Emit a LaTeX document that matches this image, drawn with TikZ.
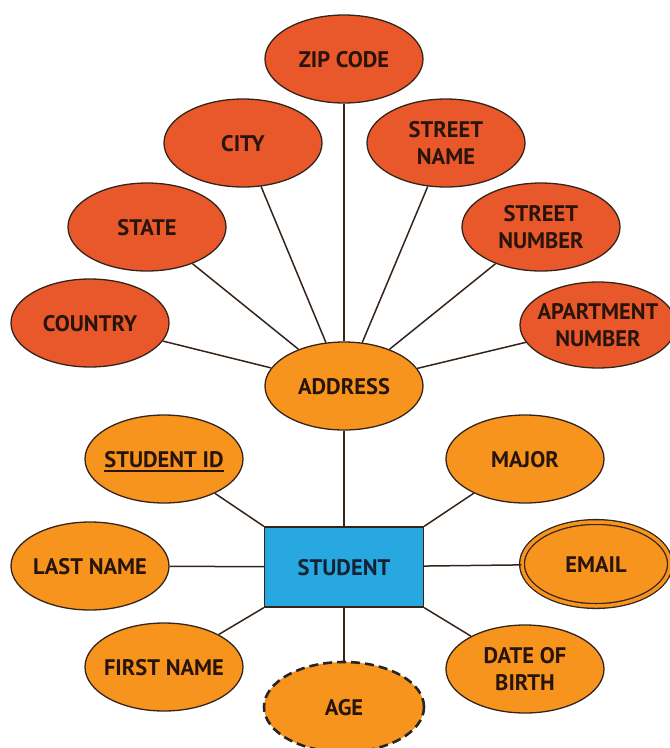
\documentclass[tikz,border=0pt]{standalone}
\usepackage{fontspec}
\setmainfont{PT Sans}
\usetikzlibrary{shapes.geometric}

\definecolor{attrred}{RGB}{233,88,42}
\definecolor{attrorange}{RGB}{247,148,30}
\definecolor{entblue}{RGB}{40,168,224}
\definecolor{edgecol}{RGB}{52,36,26}
\definecolor{ink}{RGB}{40,20,10}
\definecolor{entink}{RGB}{18,34,52}

% label of zero size, so the ellipse keeps its set size; caps centred on the node
\newcommand\attrlbl[1]{\raisebox{-8pt}[0pt][0pt]{\makebox[0pt]{\begin{tabular}{@{}c@{}}#1\end{tabular}}}}
% underlined key attribute
\newcommand\keyattr[1]{\setbox0\hbox{#1}\rlap{\rule[-5pt]{\wd0}{2pt}}\box0}

\tikzset{
  attr/.style={ellipse, draw=edgecol, line width=1.3pt, minimum width=158pt,
    minimum height=88pt, inner sep=0pt, text=ink,
    font=\fontsize{22.5}{27}\selectfont\bfseries},
  addrattr/.style={attr, fill=attrred},
  stuattr/.style={attr, fill=attrorange},
  entity/.style={rectangle, draw=edgecol, line width=1.3pt, fill=entblue,
    minimum width=159pt, minimum height=80pt, inner sep=0pt, text=entink,
    font=\fontsize{22.5}{27}\selectfont\bfseries},
  link/.style={draw=edgecol, line width=1.5pt},
}

\begin{document}
\begin{tikzpicture}[x=1pt, y=-1pt]
\useasboundingbox (0,0) rectangle (670,748);

% composite attribute and its parts
\node[stuattr] (address) at (344,386) {\attrlbl{ADDRESS}};
\node[addrattr] (zip) at (344,59) {\attrlbl{ZIP CODE}};
\node[addrattr] (city) at (243,143) {\attrlbl{CITY}};
\node[addrattr] (sname) at (446,143) {\attrlbl{STREET\\NAME}};
\node[addrattr] (state) at (147,227) {\attrlbl{STATE}};
\node[addrattr] (snum) at (541,227) {\attrlbl{STREET\\NUMBER}};
\node[addrattr] (country) at (90,323) {\attrlbl{COUNTRY}};
\node[addrattr, minimum width=156pt, minimum height=86pt] (apt) at (598,325) {\attrlbl{APARTMENT\\NUMBER}};

% entity and its attributes
\node[entity] (student) at (344,567) {\attrlbl{STUDENT}};
\node[stuattr] (sid) at (164,459) {\attrlbl{\keyattr{STUDENT ID}}};
\node[stuattr] (major) at (525,459) {\attrlbl{MAJOR}};
\node[stuattr] (lname) at (90,566) {\attrlbl{LAST NAME}};
\node[stuattr, minimum width=148pt, minimum height=84pt, double=attrorange,
      double distance=3.5pt] (email) at (596,564) {\attrlbl{EMAIL}};
\node[stuattr] (fname) at (164,667) {\attrlbl{FIRST NAME}};
\node[stuattr] (dob) at (525,669) {\attrlbl{DATE OF\\BIRTH}};
\node[stuattr, draw=black!85, line width=2.6pt, dash pattern=on 9pt off 5pt,
      minimum width=160pt, minimum height=90pt] (age) at (344,707) {\attrlbl{AGE}};

% connectors
\foreach \n in {zip, city, sname, state, snum, country, apt}
  \draw[link] (address) -- (\n);
\draw[link] (address) -- (student);
\draw[link] (sid) -- (student.north west);
\draw[link] (major) -- (student.north east);
\draw[link] (lname) -- (student);
\draw[link] (email) -- (student);
\draw[link] (fname) -- (student.south west);
\draw[link] (dob) -- (student.south east);
\draw[link] (age) -- (student);
\end{tikzpicture}
\end{document}
